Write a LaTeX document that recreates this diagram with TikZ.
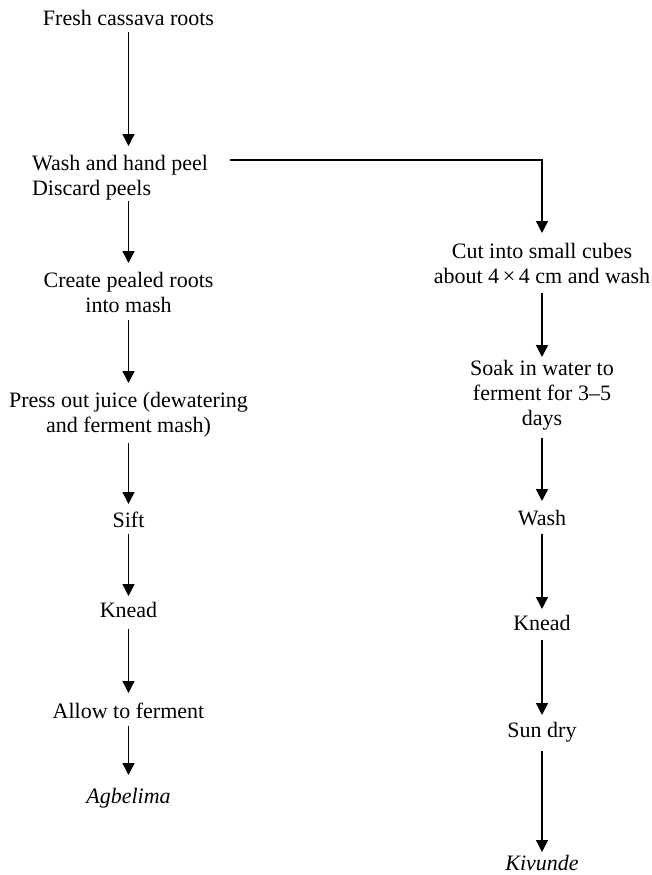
\documentclass[tikz,border=0pt]{standalone}
\usepackage{fontspec}
\setmainfont{Liberation Serif}
\usetikzlibrary{arrows.meta}
\begin{document}
\begin{tikzpicture}[x=1pt,y=-1pt,
  txt/.style={inner sep=0pt, outer sep=0pt, font=\fontsize{22}{25}\selectfont, align=center, anchor=north},
  arr/.style={line width=1.4pt, -{Triangle[length=12pt,width=12pt]}}]
\useasboundingbox (0,0) rectangle (652,875);
% left column
\node[txt] (fresh) at (128.5,10) {Fresh cassava roots};
\node[txt, align=left, anchor=north west] (wash) at (32,155) {Wash and hand peel\\Discard peels};
\node[txt] (create) at (128.5,272) {Create pealed roots\\into mash};
\node[txt] (press) at (128.5,392) {Press out juice (dewatering\\and ferment mash)};
\node[txt] (sift) at (128.5,512) {Sift};
\node[txt] (kneadL) at (128.5,602) {Knead};
\node[txt] (allow) at (128.5,703) {Allow to ferment};
\node[txt] (agb) at (128.5,788) {\itshape Agbelima};
% right column
\node[txt] (cut) at (542,243) {Cut into small cubes\\about 4\,×\,4 cm and wash};
\node[txt] (soak) at (542,360) {Soak in water to\\ferment for 3–5\\days};
\node[txt] (washR) at (542,510) {Wash};
\node[txt] (kneadR) at (542,615) {Knead};
\node[txt] (sundry) at (542,722) {Sun dry};
\node[txt] (kiv) at (542,855) {\itshape Kivunde};
% connectors left
\draw[arr, shorten <=7pt, shorten >=9pt] (fresh.south) -- (fresh.south |- wash.north);
\draw[arr, shorten <=1pt, shorten >=9pt] (wash.south -| fresh.south) -- (create.north);
\draw[arr, shorten <=8pt, shorten >=9pt] (create.south) -- (press.north);
\draw[arr, shorten <=6pt, shorten >=8pt] (press.south) -- (sift.north);
\draw[arr, shorten <=6pt, shorten >=6pt] (sift.south) -- (kneadL.north);
\draw[arr, shorten <=12pt, shorten >=10pt] (kneadL.south) -- (allow.north);
\draw[arr, shorten <=7pt, shorten >=13pt] (allow.south) -- (agb.north);
% branch
\draw[arr, shorten >=10pt] ([xshift=22pt,yshift=-5pt]wash.north east) -| (cut.north);
% connectors right
\draw[arr, shorten <=10pt, shorten >=3pt] (cut.south) -- (soak.north);
\draw[arr, shorten <=8pt, shorten >=9pt] (soak.south) -- (washR.north);
\draw[arr, shorten <=8pt, shorten >=6pt] (washR.south) -- (kneadR.north);
\draw[arr, shorten <=10pt, shorten >=7pt] (kneadR.south) -- (sundry.north);
\draw[arr, shorten <=9pt, shorten >=3pt] (sundry.south) -- (kiv.north);
\end{tikzpicture}
\end{document}
